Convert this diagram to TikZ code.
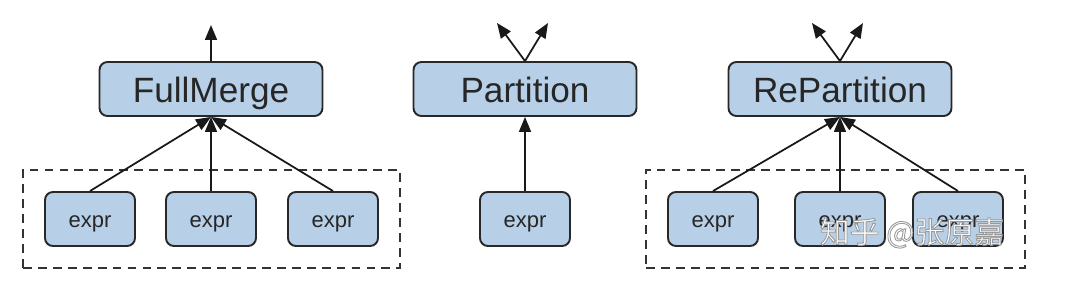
\documentclass[tikz,border=0pt]{standalone}
\usepackage{fontspec}
\setmainfont{Liberation Sans}
\newfontfamily\cjkfont{Noto Sans CJK SC}
\usepackage{tikz}
\usetikzlibrary{fit,arrows.meta,positioning,calc}
\definecolor{OpBlue}{RGB}{183,208,232}
\definecolor{OpEdge}{RGB}{40,40,40}
\newcommand{\outlined}[1]{\special{pdf:literal direct 0.6 G 0.5 w 2 Tr}#1\special{pdf:literal direct 0 Tr}}
\tikzset{
  opbox/.style={draw=OpEdge, fill=OpBlue, rounded corners=4.5pt, line width=1.1pt,
    align=center, font=\fontsize{20}{24}\selectfont, text=black!85,
    minimum width=4.46cm, minimum height=1.08cm, inner sep=0pt,
    text height=15pt, text depth=0pt},
  exprbox/.style={draw=OpEdge, fill=OpBlue, rounded corners=4.5pt, line width=1.1pt,
    align=center, font=\fontsize{12.5}{15}\selectfont, text=black!85,
    minimum width=1.8cm, minimum height=1.08cm, inner sep=0pt,
    text height=10pt, text depth=0pt},
  flow/.style={-{Triangle[length=3mm,width=2.4mm]}, line width=1pt, draw=black!90},
  groupbox/.style={draw=black!80, line width=1pt, dash pattern=on 5pt off 3.5pt,
    inner xsep=0.42cm, inner ysep=0.42cm},
  watermark/.style={font=\cjkfont\fontsize{17}{20}\selectfont, text=white}
}
\begin{document}
\begin{tikzpicture}[x=0.02cm, y=-0.02cm]
  \useasboundingbox (0,0) rectangle (1080,293);
  % full merge
  \node[opbox] (fm) at (211,89) {FullMerge};
  \node[exprbox] (fm1) at (90,219) {expr};
  \node[exprbox] (fm2) at (211,219) {expr};
  \node[exprbox] (fm3) at (333,219) {expr};
  \node[groupbox, fit=(fm1)(fm3)] (fmgroup) {};
  \coordinate (fmout) at (211,25);
  \foreach \i in {1,2,3}
    \draw[flow] (fm\i.north) -- (fm.south);
  \draw[flow] (fm.north) -- (fmout);
  % partition
  \node[opbox] (pt) at (525,89) {Partition};
  \node[exprbox] (pt1) at (525,219) {expr};
  \coordinate (ptoutl) at (497,23);
  \coordinate (ptoutr) at (548,23);
  \draw[flow] (pt1.north) -- (pt.south);
  \draw[flow] (pt.north) -- (ptoutl);
  \draw[flow] (pt.north) -- (ptoutr);
  % repartition
  \node[opbox] (rp) at (840,89) {RePartition};
  \node[exprbox] (rp1) at (713,219) {expr};
  \node[exprbox] (rp2) at (840,219) {expr};
  \node[exprbox] (rp3) at (958,219) {expr};
  \node[groupbox, fit=(rp1)(rp3)] (rpgroup) {};
  \coordinate (rpoutl) at (812,23);
  \coordinate (rpoutr) at (863,23);
  \foreach \i in {1,2,3}
    \draw[flow] (rp\i.north) -- (rp.south);
  \draw[flow] (rp.north) -- (rpoutl);
  \draw[flow] (rp.north) -- (rpoutr);
  \node[watermark] (mark) at (912,233) {\outlined{知乎 @张原嘉}};
\end{tikzpicture}
\end{document}
